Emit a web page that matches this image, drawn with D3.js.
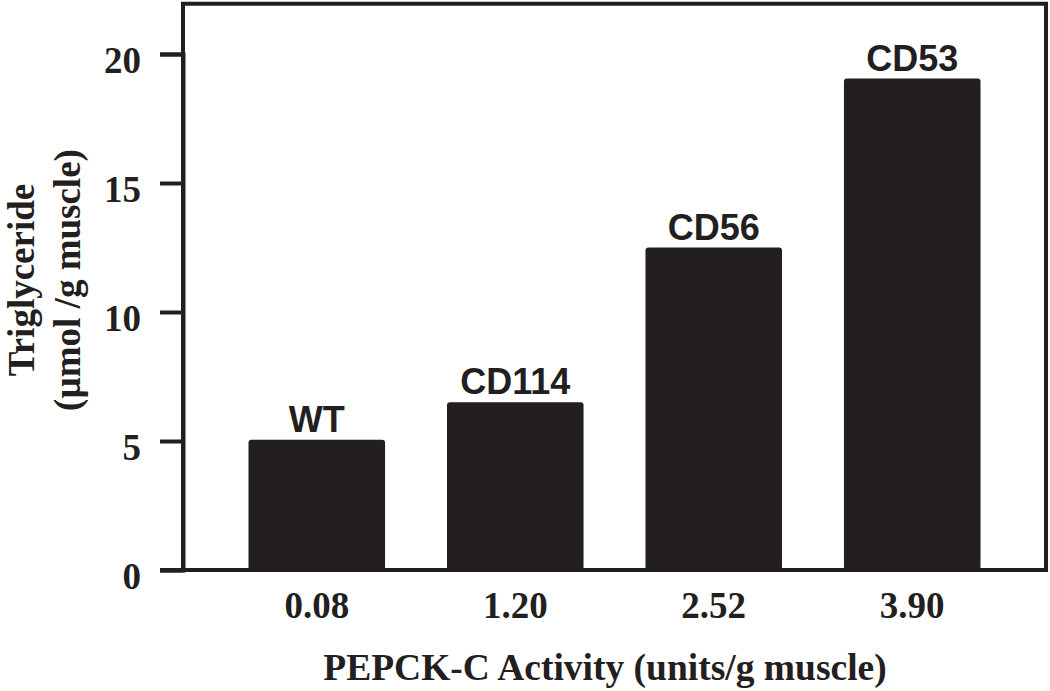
<!DOCTYPE html>
<html>
<head>
<meta charset="utf-8">
<script src="https://cdn.jsdelivr.net/npm/d3@7"></script>
<style>
  html, body { margin: 0; padding: 0; background: #ffffff; }
  svg { display: block; }
</style>
</head>
<body>
<svg id="chart" width="1050" height="691"></svg>
<script>
// ---- data ----
const activity = ["0.08", "1.20", "2.52", "3.90"];
const strains = ["WT", "CD114", "CD56", "CD53"];
const triglyceride = [5.05, 6.5, 12.5, 19.05];
const yTicks = [0, 5, 10, 15, 20];
const xTitle = "PEPCK-C Activity (units/g muscle)";
const yTitle1 = "Triglyceride";
const yTitle2 = "(\u00b5mol /g muscle)";

const ink = "#231f20";
const serif = "'Liberation Serif', 'Times New Roman', serif";
const sans = "'Liberation Sans', Arial, sans-serif";

const svg = d3.select("#chart");
const plotLeft = 183, plotRight = 1046, plotBottom = 570;

const x = d3.scaleBand()
  .domain(activity)
  .range([plotLeft, plotRight])
  .paddingInner(0.312)
  .paddingOuter(0.33);

const y = d3.scaleLinear().domain([0, 20]).range([plotBottom, 54]);
const plotTop = y(21.95);

// frame (top and right)
svg.append("path")
  .attr("d", `M${plotLeft},${plotBottom} L${plotLeft},${plotTop} L${plotRight},${plotTop} L${plotRight},${plotBottom}`)
  .attr("fill", "none")
  .attr("stroke", ink)
  .attr("stroke-width", 4);

// bars
const data = activity.map((a, i) => ({ a, s: strains[i], v: triglyceride[i] }));
svg.append("g").selectAll("rect")
  .data(data)
  .join("rect")
  .attr("x", d => x(d.a))
  .attr("y", d => y(d.v))
  .attr("width", x.bandwidth())
  .attr("height", d => y(0) - y(d.v))
  .attr("rx", 3)
  .attr("fill", ink);

// bar labels
svg.append("g").selectAll("text")
  .data(data)
  .join("text")
  .attr("x", d => x(d.a) + x.bandwidth() / 2)
  .attr("y", d => y(d.v) - 8)
  .attr("text-anchor", "middle")
  .attr("font-family", sans)
  .attr("font-weight", "bold")
  .attr("font-size", 36)
  .attr("fill", ink)
  .text(d => d.s);

// y axis
const yAxis = svg.append("g")
  .attr("transform", `translate(${plotLeft},0)`)
  .call(d3.axisLeft(y).tickValues(yTicks).tickSize(23).tickPadding(19).tickFormat(d3.format("d")));
yAxis.select(".domain").attr("stroke", ink).attr("stroke-width", 4);
yAxis.selectAll(".tick line").attr("stroke", ink).attr("stroke-width", 4);
yAxis.selectAll(".tick text")
  .attr("font-family", serif)
  .attr("font-weight", "bold")
  .attr("font-size", 37)
  .attr("fill", ink)
  .attr("dy", "0.5em");

// x axis
const xAxis = svg.append("g")
  .attr("transform", `translate(0,${plotBottom})`)
  .call(d3.axisBottom(x).tickSize(0).tickPadding(0));
xAxis.select(".domain").remove();
svg.append("line")
  .attr("x1", plotLeft - 23).attr("x2", plotRight + 2)
  .attr("y1", plotBottom).attr("y2", plotBottom)
  .attr("stroke", ink).attr("stroke-width", 4);
xAxis.selectAll(".tick text")
  .attr("font-family", serif)
  .attr("font-weight", "bold")
  .attr("font-size", 37)
  .attr("fill", ink)
  .attr("dy", null)
  .attr("y", 48);

// axis titles
svg.append("text")
  .attr("x", 605).attr("y", 680)
  .attr("text-anchor", "middle")
  .attr("font-family", serif)
  .attr("font-weight", "bold")
  .attr("font-size", 37.5)
  .attr("fill", ink)
  .text(xTitle);

svg.append("text")
  .attr("transform", "translate(34,280) rotate(-90)")
  .attr("text-anchor", "middle")
  .attr("font-family", serif)
  .attr("font-weight", "bold")
  .attr("font-size", 37)
  .attr("fill", ink)
  .text(yTitle1);

svg.append("text")
  .attr("transform", "translate(80,280) rotate(-90)")
  .attr("text-anchor", "middle")
  .attr("font-family", serif)
  .attr("font-weight", "bold")
  .attr("font-size", 37)
  .attr("fill", ink)
  .text(yTitle2);
</script>
</body>
</html>
